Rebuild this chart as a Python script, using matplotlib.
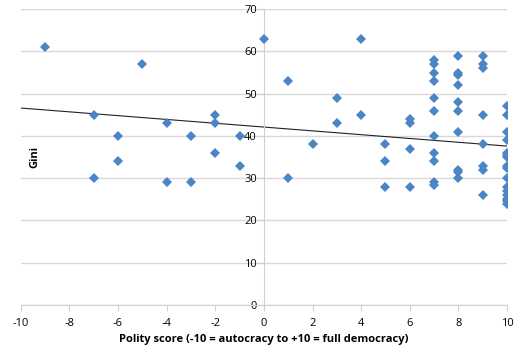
import matplotlib.pyplot as plt
import numpy as np

plt.rcParams['font.family'] = ['Open Sans', 'DejaVu Sans']
plt.rcParams['axes.unicode_minus'] = False

# polity score -> gini values, column by column
polity = [-9, -7, -7, -6, -6, -5, -4, -4, -3, -3, -2, -2, -2, -1, -1,
          0, 1, 1, 2, 3, 3, 4, 4, 5, 5, 5, 6, 6, 6, 6]
gini = [61, 45, 30, 40, 34, 57, 43, 29, 40, 29, 45, 43, 36, 40, 33,
        63, 53, 30, 38, 49, 43, 63, 45, 38, 34, 28, 44, 43, 37, 28]

polity_7 = [7] * 11
gini_7 = [58, 57, 55, 53, 49, 46, 40, 36, 34, 29, 28.5]
polity_8 = [8] * 10
gini_8 = [59, 55, 54.5, 52, 48, 46, 41, 32, 31.5, 30]
polity_9 = [9] * 8
gini_9 = [59, 57, 56, 45, 38, 33, 32, 26]
polity_10 = [10] * 16
gini_10 = [47, 45, 41, 39, 36, 35.5, 35, 33, 32.5, 30, 28, 27, 26, 25, 24.5, 24]

# trend line ends as drawn in the original
trend_x = [-10, 10]
trend_gini = [46.6, 37.6]

x = polity + polity_7 + polity_8 + polity_9 + polity_10
y = gini + gini_7 + gini_8 + gini_9 + gini_10

fig = plt.figure(figsize=(5.2, 3.51), dpi=100)
ax = fig.add_axes([0.040, 0.131, 0.935, 0.843])

ax.set_xlim(-10, 10)
ax.set_ylim(0, 70)
ax.set_yticks(range(0, 71, 10))
ax.set_xticks(range(-10, 11, 2))
ax.yaxis.grid(True, color='#d9d9d9', lw=1)
ax.set_axisbelow(True)

ax.plot(trend_x, trend_gini, color='#222222', lw=0.8, zorder=2)
ax.plot(x, y, 'D', color='#4a85c5', markersize=5, markeredgewidth=0, zorder=3)

for s in ['top', 'right']:
    ax.spines[s].set_visible(False)
ax.spines['left'].set_position(('data', 0))
ax.spines['left'].set_color('#d0d0d0')
ax.spines['bottom'].set_color('#d0d0d0')
ax.tick_params(axis='y', length=4, color='#d0d0d0', labelsize=8, pad=1)
ax.tick_params(axis='x', length=4, color='#d0d0d0', labelsize=8, pad=5)

ax.set_xlabel('Polity score (-10 = autocracy to +10 = full democracy)',
              fontsize=8, fontweight='bold', labelpad=4)
fig.text(0.068, 0.553, 'Gini', rotation=90, fontsize=8, fontweight='bold',
         ha='center', va='center')

fig.savefig('out.png', dpi=100)
